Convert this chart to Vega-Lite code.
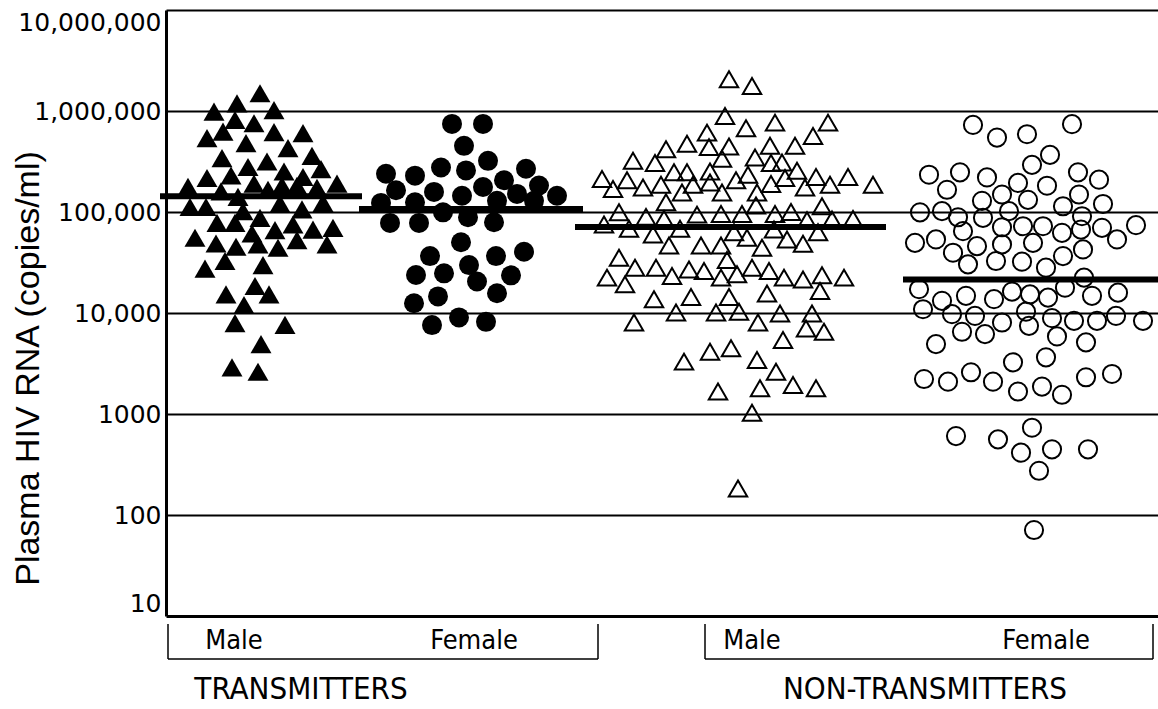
{
  "$schema": "https://vega.github.io/schema/vega-lite/v6.json",
  "width": 992,
  "height": 606,
  "autosize": {"type": "none"},
  "padding": {"left": 166, "top": 10, "right": 0, "bottom": 93},
  "background": "white",
  "config": {"view": {"stroke": null}, "font": "Liberation Sans"},
  "datasets": {
    "points": [
      {"group":"T-Male","pos":95,"rna":1500000},{"group":"T-Male","pos":72,"rna":1190000},{"group":"T-Male","pos":49,"rna":984000},{"group":"T-Male","pos":109,"rna":1020000},{"group":"T-Male","pos":70,"rna":815000},{"group":"T-Male","pos":89,"rna":757000},{"group":"T-Male","pos":58,"rna":625000},{"group":"T-Male","pos":109,"rna":617000},{"group":"T-Male","pos":138,"rna":603000},{"group":"T-Male","pos":42,"rna":538000},{"group":"T-Male","pos":81,"rna":480000},{"group":"T-Male","pos":123,"rna":429000},{"group":"T-Male","pos":57,"rna":342000},{"group":"T-Male","pos":147,"rna":360000},{"group":"T-Male","pos":102,"rna":316000},{"group":"T-Male","pos":83,"rna":279000},{"group":"T-Male","pos":156,"rna":266000},{"group":"T-Male","pos":119,"rna":252000},{"group":"T-Male","pos":66,"rna":230000},{"group":"T-Male","pos":138,"rna":222000},{"group":"T-Male","pos":42,"rna":217000},{"group":"T-Male","pos":89,"rna":191000},{"group":"T-Male","pos":172,"rna":191000},{"group":"T-Male","pos":23,"rna":177000},{"group":"T-Male","pos":117,"rna":182000},{"group":"T-Male","pos":132,"rna":182000},{"group":"T-Male","pos":56,"rna":160000},{"group":"T-Male","pos":103,"rna":166000},{"group":"T-Male","pos":152,"rna":173000},{"group":"T-Male","pos":73,"rna":141000},{"group":"T-Male","pos":25,"rna":112000},{"group":"T-Male","pos":41,"rna":112000},{"group":"T-Male","pos":115,"rna":121000},{"group":"T-Male","pos":158,"rna":123000},{"group":"T-Male","pos":78,"rna":102000},{"group":"T-Male","pos":137,"rna":106000},{"group":"T-Male","pos":95,"rna":87500},{"group":"T-Male","pos":52,"rna":78000},{"group":"T-Male","pos":70,"rna":78000},{"group":"T-Male","pos":128,"rna":75200},{"group":"T-Male","pos":110,"rna":66100},{"group":"T-Male","pos":148,"rna":67000},{"group":"T-Male","pos":168,"rna":69700},{"group":"T-Male","pos":30,"rna":55600},{"group":"T-Male","pos":87,"rna":61200},{"group":"T-Male","pos":132,"rna":52600},{"group":"T-Male","pos":51,"rna":48800},{"group":"T-Male","pos":71,"rna":45300},{"group":"T-Male","pos":93,"rna":47800},{"group":"T-Male","pos":113,"rna":44300},{"group":"T-Male","pos":162,"rna":47800},{"group":"T-Male","pos":60,"rna":32700},{"group":"T-Male","pos":40,"rna":27500},{"group":"T-Male","pos":98,"rna":29800},{"group":"T-Male","pos":90,"rna":18500},{"group":"T-Male","pos":61,"rna":15300},{"group":"T-Male","pos":104,"rna":15300},{"group":"T-Male","pos":79,"rna":12000},{"group":"T-Male","pos":70,"rna":7930},{"group":"T-Male","pos":120,"rna":7640},{"group":"T-Male","pos":96,"rna":4920},{"group":"T-Male","pos":67,"rna":2900},{"group":"T-Male","pos":93,"rna":2620},
      {"group":"T-Female","pos":287,"rna":745000},{"group":"T-Female","pos":318,"rna":745000},{"group":"T-Female","pos":299,"rna":452000},{"group":"T-Female","pos":276,"rna":276000},{"group":"T-Female","pos":323,"rna":321000},{"group":"T-Female","pos":301,"rna":258000},{"group":"T-Female","pos":361,"rna":268000},{"group":"T-Female","pos":221,"rna":239000},{"group":"T-Female","pos":250,"rna":229000},{"group":"T-Female","pos":339,"rna":206000},{"group":"T-Female","pos":231,"rna":164000},{"group":"T-Female","pos":269,"rna":158000},{"group":"T-Female","pos":318,"rna":177000},{"group":"T-Female","pos":374,"rna":183000},{"group":"T-Female","pos":297,"rna":145000},{"group":"T-Female","pos":352,"rna":151000},{"group":"T-Female","pos":392,"rna":145000},{"group":"T-Female","pos":216,"rna":123000},{"group":"T-Female","pos":250,"rna":125000},{"group":"T-Female","pos":332,"rna":129000},{"group":"T-Female","pos":369,"rna":129000},{"group":"T-Female","pos":278,"rna":99300},{"group":"T-Female","pos":303,"rna":88700},{"group":"T-Female","pos":225,"rna":78000},{"group":"T-Female","pos":254,"rna":78000},{"group":"T-Female","pos":329,"rna":79100},{"group":"T-Female","pos":296,"rna":50200},{"group":"T-Female","pos":265,"rna":36600},{"group":"T-Female","pos":331,"rna":36600},{"group":"T-Female","pos":359,"rna":40400},{"group":"T-Female","pos":304,"rna":29800},{"group":"T-Female","pos":251,"rna":23800},{"group":"T-Female","pos":279,"rna":24700},{"group":"T-Female","pos":312,"rna":20500},{"group":"T-Female","pos":346,"rna":23600},{"group":"T-Female","pos":249,"rna":12500},{"group":"T-Female","pos":273,"rna":14600},{"group":"T-Female","pos":332,"rna":15700},{"group":"T-Female","pos":267,"rna":7590},{"group":"T-Female","pos":294,"rna":9040},{"group":"T-Female","pos":321,"rna":8170},
      {"group":"NT-Male","pos":564,"rna":2060000},{"group":"NT-Male","pos":587,"rna":1770000},{"group":"NT-Male","pos":560,"rna":893000},{"group":"NT-Male","pos":581,"rna":675000},{"group":"NT-Male","pos":610,"rna":767000},{"group":"NT-Male","pos":663,"rna":767000},{"group":"NT-Male","pos":542,"rna":611000},{"group":"NT-Male","pos":648,"rna":566000},{"group":"NT-Male","pos":522,"rna":473000},{"group":"NT-Male","pos":501,"rna":419000},{"group":"NT-Male","pos":544,"rna":439000},{"group":"NT-Male","pos":564,"rna":445000},{"group":"NT-Male","pos":605,"rna":452000},{"group":"NT-Male","pos":630,"rna":452000},{"group":"NT-Male","pos":468,"rna":321000},{"group":"NT-Male","pos":490,"rna":305000},{"group":"NT-Male","pos":557,"rna":337000},{"group":"NT-Male","pos":590,"rna":346000},{"group":"NT-Male","pos":606,"rna":305000},{"group":"NT-Male","pos":617,"rna":309000},{"group":"NT-Male","pos":509,"rna":247000},{"group":"NT-Male","pos":522,"rna":247000},{"group":"NT-Male","pos":545,"rna":252000},{"group":"NT-Male","pos":583,"rna":234000},{"group":"NT-Male","pos":632,"rna":256000},{"group":"NT-Male","pos":620,"rna":217000},{"group":"NT-Male","pos":437,"rna":212000},{"group":"NT-Male","pos":462,"rna":206000},{"group":"NT-Male","pos":448,"rna":169000},{"group":"NT-Male","pos":478,"rna":175000},{"group":"NT-Male","pos":496,"rna":186000},{"group":"NT-Male","pos":528,"rna":186000},{"group":"NT-Male","pos":545,"rna":196000},{"group":"NT-Male","pos":571,"rna":206000},{"group":"NT-Male","pos":606,"rna":189000},{"group":"NT-Male","pos":651,"rna":222000},{"group":"NT-Male","pos":665,"rna":186000},{"group":"NT-Male","pos":683,"rna":222000},{"group":"NT-Male","pos":708,"rna":186000},{"group":"NT-Male","pos":640,"rna":175000},{"group":"NT-Male","pos":517,"rna":156000},{"group":"NT-Male","pos":557,"rna":156000},{"group":"NT-Male","pos":592,"rna":156000},{"group":"NT-Male","pos":501,"rna":125000},{"group":"NT-Male","pos":591,"rna":116000},{"group":"NT-Male","pos":657,"rna":114000},{"group":"NT-Male","pos":454,"rna":99300},{"group":"NT-Male","pos":481,"rna":89500},{"group":"NT-Male","pos":499,"rna":85500},{"group":"NT-Male","pos":532,"rna":94200},{"group":"NT-Male","pos":556,"rna":95700},{"group":"NT-Male","pos":577,"rna":95700},{"group":"NT-Male","pos":610,"rna":95700},{"group":"NT-Male","pos":626,"rna":100000},{"group":"NT-Male","pos":642,"rna":82800},{"group":"NT-Male","pos":667,"rna":84100},{"group":"NT-Male","pos":688,"rna":85500},{"group":"NT-Male","pos":439,"rna":75200},{"group":"NT-Male","pos":464,"rna":68100},{"group":"NT-Male","pos":488,"rna":59800},{"group":"NT-Male","pos":515,"rna":68100},{"group":"NT-Male","pos":569,"rna":63100},{"group":"NT-Male","pos":582,"rna":55600},{"group":"NT-Male","pos":609,"rna":67000},{"group":"NT-Male","pos":622,"rna":53500},{"group":"NT-Male","pos":638,"rna":48400},{"group":"NT-Male","pos":653,"rna":63100},{"group":"NT-Male","pos":504,"rna":46700},{"group":"NT-Male","pos":536,"rna":46700},{"group":"NT-Male","pos":556,"rna":46700},{"group":"NT-Male","pos":597,"rna":44300},{"group":"NT-Male","pos":454,"rna":35200},{"group":"NT-Male","pos":562,"rna":33400},{"group":"NT-Male","pos":470,"rna":28100},{"group":"NT-Male","pos":491,"rna":28100},{"group":"NT-Male","pos":524,"rna":27000},{"group":"NT-Male","pos":539,"rna":26000},{"group":"NT-Male","pos":587,"rna":28100},{"group":"NT-Male","pos":604,"rna":26000},{"group":"NT-Male","pos":442,"rna":22400},{"group":"NT-Male","pos":507,"rna":23200},{"group":"NT-Male","pos":556,"rna":22400},{"group":"NT-Male","pos":572,"rna":24200},{"group":"NT-Male","pos":619,"rna":22400},{"group":"NT-Male","pos":638,"rna":21500},{"group":"NT-Male","pos":657,"rna":23600},{"group":"NT-Male","pos":679,"rna":22400},{"group":"NT-Male","pos":460,"rna":19200},{"group":"NT-Male","pos":655,"rna":16500},{"group":"NT-Male","pos":489,"rna":13700},{"group":"NT-Male","pos":526,"rna":14400},{"group":"NT-Male","pos":564,"rna":14400},{"group":"NT-Male","pos":602,"rna":15600},{"group":"NT-Male","pos":511,"rna":10100},{"group":"NT-Male","pos":551,"rna":10100},{"group":"NT-Male","pos":574,"rna":10300},{"group":"NT-Male","pos":615,"rna":9890},{"group":"NT-Male","pos":647,"rna":9890},{"group":"NT-Male","pos":469,"rna":8050},{"group":"NT-Male","pos":593,"rna":8050},{"group":"NT-Male","pos":641,"rna":7030},{"group":"NT-Male","pos":659,"rna":6520},{"group":"NT-Male","pos":618,"rna":5400},{"group":"NT-Male","pos":566,"rna":4470},{"group":"NT-Male","pos":545,"rna":4130},{"group":"NT-Male","pos":519,"rna":3300},{"group":"NT-Male","pos":592,"rna":3420},{"group":"NT-Male","pos":611,"rna":2620},{"group":"NT-Male","pos":628,"rna":1940},{"group":"NT-Male","pos":651,"rna":1800},{"group":"NT-Male","pos":553,"rna":1670},{"group":"NT-Male","pos":595,"rna":1800},{"group":"NT-Male","pos":587,"rna":1030},{"group":"NT-Male","pos":573,"rna":183},
      {"group":"NT-Female","pos":808,"rna":728000},{"group":"NT-Female","pos":832,"rna":546000},{"group":"NT-Female","pos":862,"rna":589000},{"group":"NT-Female","pos":907,"rna":740000},{"group":"NT-Female","pos":885,"rna":368000},{"group":"NT-Female","pos":867,"rna":293000},{"group":"NT-Female","pos":764,"rna":234000},{"group":"NT-Female","pos":795,"rna":247000},{"group":"NT-Female","pos":822,"rna":220000},{"group":"NT-Female","pos":853,"rna":194000},{"group":"NT-Female","pos":882,"rna":182000},{"group":"NT-Female","pos":913,"rna":247000},{"group":"NT-Female","pos":934,"rna":209000},{"group":"NT-Female","pos":782,"rna":166000},{"group":"NT-Female","pos":837,"rna":149000},{"group":"NT-Female","pos":817,"rna":129000},{"group":"NT-Female","pos":863,"rna":132000},{"group":"NT-Female","pos":914,"rna":149000},{"group":"NT-Female","pos":898,"rna":114000},{"group":"NT-Female","pos":938,"rna":120000},{"group":"NT-Female","pos":755,"rna":99300},{"group":"NT-Female","pos":777,"rna":102000},{"group":"NT-Female","pos":793,"rna":88700},{"group":"NT-Female","pos":818,"rna":87500},{"group":"NT-Female","pos":844,"rna":102000},{"group":"NT-Female","pos":917,"rna":90800},{"group":"NT-Female","pos":837,"rna":70600},{"group":"NT-Female","pos":858,"rna":72300},{"group":"NT-Female","pos":878,"rna":72300},{"group":"NT-Female","pos":897,"rna":62200},{"group":"NT-Female","pos":916,"rna":67000},{"group":"NT-Female","pos":937,"rna":69700},{"group":"NT-Female","pos":971,"rna":74000},{"group":"NT-Female","pos":798,"rna":64600},{"group":"NT-Female","pos":750,"rna":49500},{"group":"NT-Female","pos":771,"rna":53500},{"group":"NT-Female","pos":812,"rna":45900},{"group":"NT-Female","pos":837,"rna":47800},{"group":"NT-Female","pos":868,"rna":49500},{"group":"NT-Female","pos":952,"rna":53500},{"group":"NT-Female","pos":788,"rna":39500},{"group":"NT-Female","pos":918,"rna":42600},{"group":"NT-Female","pos":898,"rna":36600},{"group":"NT-Female","pos":803,"rna":30300},{"group":"NT-Female","pos":831,"rna":32700},{"group":"NT-Female","pos":857,"rna":32200},{"group":"NT-Female","pos":881,"rna":28100},{"group":"NT-Female","pos":919,"rna":22400},{"group":"NT-Female","pos":900,"rna":17800},{"group":"NT-Female","pos":754,"rna":17200},{"group":"NT-Female","pos":777,"rna":13200},{"group":"NT-Female","pos":801,"rna":14800},{"group":"NT-Female","pos":829,"rna":13700},{"group":"NT-Female","pos":847,"rna":16300},{"group":"NT-Female","pos":865,"rna":15300},{"group":"NT-Female","pos":883,"rna":14200},{"group":"NT-Female","pos":927,"rna":14800},{"group":"NT-Female","pos":953,"rna":15900},{"group":"NT-Female","pos":758,"rna":10900},{"group":"NT-Female","pos":787,"rna":9730},{"group":"NT-Female","pos":810,"rna":9350},{"group":"NT-Female","pos":861,"rna":10300},{"group":"NT-Female","pos":887,"rna":8890},{"group":"NT-Female","pos":909,"rna":8360},{"group":"NT-Female","pos":932,"rna":8360},{"group":"NT-Female","pos":951,"rna":9350},{"group":"NT-Female","pos":978,"rna":8360},{"group":"NT-Female","pos":837,"rna":8050},{"group":"NT-Female","pos":864,"rna":7460},{"group":"NT-Female","pos":797,"rna":6520},{"group":"NT-Female","pos":820,"rna":6180},{"group":"NT-Female","pos":892,"rna":5860},{"group":"NT-Female","pos":771,"rna":4920},{"group":"NT-Female","pos":921,"rna":5120},{"group":"NT-Female","pos":848,"rna":3250},{"group":"NT-Female","pos":881,"rna":3640},{"group":"NT-Female","pos":759,"rna":2220},{"group":"NT-Female","pos":783,"rna":2090},{"group":"NT-Female","pos":806,"rna":2590},{"group":"NT-Female","pos":828,"rna":2090},{"group":"NT-Female","pos":853,"rna":1670},{"group":"NT-Female","pos":877,"rna":1870},{"group":"NT-Female","pos":897,"rna":1550},{"group":"NT-Female","pos":921,"rna":2310},{"group":"NT-Female","pos":947,"rna":2490},{"group":"NT-Female","pos":867,"rna":731},{"group":"NT-Female","pos":791,"rna":605},{"group":"NT-Female","pos":833,"rna":561},{"group":"NT-Female","pos":856,"rna":414},{"group":"NT-Female","pos":887,"rna":447},{"group":"NT-Female","pos":923,"rna":447},{"group":"NT-Female","pos":874,"rna":274},{"group":"NT-Female","pos":869,"rna":71}
    ],
    "means": [
      {"group":"T-Male","start":-5,"end":197,"rna":143600},
      {"group":"T-Female","start":194,"end":418,"rna":107000},
      {"group":"NT-Male","start":410,"end":721,"rna":71000},
      {"group":"NT-Female","start":738,"end":993,"rna":21500}
    ],
    "bracketSides": [
      {"pos":3,"rna":8.34,"rna2":3.75},{"pos":433,"rna":8.34,"rna2":3.75},
      {"pos":540,"rna":8.34,"rna2":3.75},{"pos":988,"rna":8.34,"rna2":3.75}
    ],
    "bracketBases": [
      {"start":3,"end":433,"rna":3.75},{"start":540,"end":988,"rna":3.75}
    ],
    "labels": [
      {"level":"sex","text":"Male","pos":69,"rna":4.71},
      {"level":"sex","text":"Female","pos":309,"rna":4.71},
      {"level":"sex","text":"Male","pos":587,"rna":4.71},
      {"level":"sex","text":"Female","pos":881,"rna":4.71},
      {"level":"status","text":"TRANSMITTERS","pos":136,"rna":1.51},
      {"level":"status","text":"NON-TRANSMITTERS","pos":760,"rna":1.51}
    ]
  },
  "encoding": {
    "y": {
      "field": "rna",
      "type": "quantitative",
      "scale": {"type": "log", "domain": [10, 10000000], "nice": false},
      "axis": {
        "values": [10, 100, 1000, 10000, 100000, 1000000, 10000000],
        "labelExpr": "datum.value >= 10000 ? format(datum.value, ',') : format(datum.value, 'd')",
        "labelFont": "DejaVu Sans",
        "labelFontSize": 25,
        "labelColor": "black",
        "labelPadding": 5,
        "labelFlush": true,
        "ticks": false,
        "domain": true,
        "domainColor": "black",
        "domainWidth": 3,
        "grid": true,
        "gridColor": "black",
        "gridOpacity": 1,
        "gridWidth": {"condition": {"test": "datum.value == 10", "value": 3}, "value": 2},
        "title": "Plasma HIV RNA (copies/ml)",
        "titleFont": "Liberation Sans",
        "titleFontSize": 34,
        "titleFontWeight": "normal",
        "titleColor": "black",
        "titleAngle": 270,
        "titleAlign": "center",
        "titleBaseline": "middle",
        "titleX": -138,
        "titleY": 358
      }
    }
  },
  "layer": [
    {
      "data": {"name": "points"},
      "transform": [{"filter": "datum.group == 'T-Male'"}],
      "mark": {"type": "point", "shape": "triangle-up", "filled": true, "color": "black", "opacity": 1, "size": 440},
      "encoding": {"x": {"field": "pos", "type": "quantitative", "scale": {"domain": [1, 993], "nice": false, "zero": false}, "axis": null}}
    },
    {
      "data": {"name": "points"},
      "transform": [{"filter": "datum.group == 'T-Female'"}],
      "mark": {"type": "point", "shape": "circle", "filled": true, "color": "black", "opacity": 1, "size": 400},
      "encoding": {"x": {"field": "pos", "type": "quantitative", "axis": null}}
    },
    {
      "data": {"name": "points"},
      "transform": [{"filter": "datum.group == 'NT-Male'"}],
      "mark": {"type": "point", "shape": "triangle-up", "filled": false, "stroke": "black", "strokeWidth": 2, "fill": null, "opacity": 1, "size": 340},
      "encoding": {"x": {"field": "pos", "type": "quantitative", "axis": null}}
    },
    {
      "data": {"name": "points"},
      "transform": [{"filter": "datum.group == 'NT-Female'"}],
      "mark": {"type": "point", "shape": "circle", "filled": false, "stroke": "black", "strokeWidth": 2, "fill": null, "opacity": 1, "size": 330},
      "encoding": {"x": {"field": "pos", "type": "quantitative", "axis": null}}
    },
    {
      "data": {"name": "means"},
      "mark": {"type": "rule", "color": "black", "strokeWidth": 6},
      "encoding": {"x": {"field": "start", "type": "quantitative", "axis": null}, "x2": {"field": "end"}}
    },
    {
      "data": {"name": "bracketSides"},
      "mark": {"type": "rule", "color": "black", "strokeWidth": 1.5},
      "encoding": {"x": {"field": "pos", "type": "quantitative", "axis": null}, "y2": {"field": "rna2"}}
    },
    {
      "data": {"name": "bracketBases"},
      "mark": {"type": "rule", "color": "black", "strokeWidth": 1.5},
      "encoding": {"x": {"field": "start", "type": "quantitative", "axis": null}, "x2": {"field": "end"}}
    },
    {
      "data": {"name": "labels"},
      "transform": [{"filter": "datum.level == 'sex'"}],
      "mark": {"type": "text", "font": "DejaVu Sans Condensed, Liberation Sans", "fontSize": 27, "color": "black", "align": "center", "baseline": "alphabetic"},
      "encoding": {"x": {"field": "pos", "type": "quantitative", "axis": null}, "text": {"field": "text"}}
    },
    {
      "data": {"name": "labels"},
      "transform": [{"filter": "datum.level == 'status'"}],
      "mark": {"type": "text", "font": "DejaVu Sans Condensed, Liberation Sans", "fontSize": 31, "color": "black", "align": "center", "baseline": "alphabetic"},
      "encoding": {"x": {"field": "pos", "type": "quantitative", "axis": null}, "text": {"field": "text"}}
    }
  ]
}
